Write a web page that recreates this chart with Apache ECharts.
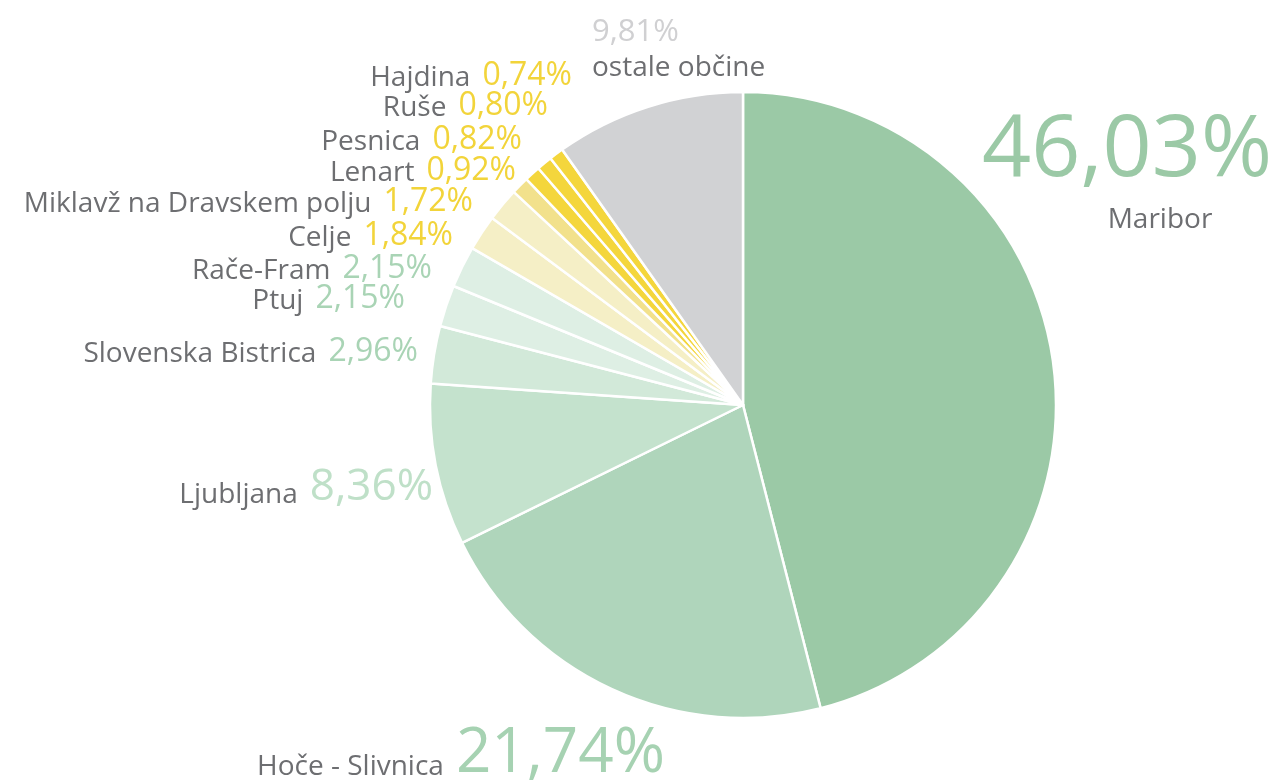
<!DOCTYPE html>
<html>
<head>
<meta charset="utf-8">
<script src="https://cdn.jsdelivr.net/npm/echarts@6/dist/echarts.min.js"></script>
<style>
  html, body { margin: 0; padding: 0; background: #fff; }
  #main { width: 1278px; height: 783px; }
</style>
</head>
<body>
<div id="main"></div>
<script>
// deleži po občinah (v smeri urinega kazalca od vrha)
const names = ['Maribor', 'Hoče - Slivnica', 'Ljubljana', 'Slovenska Bistrica', 'Ptuj', 'Rače-Fram',
  'Celje', 'Miklavž na Dravskem polju', 'Lenart', 'Pesnica', 'Ruše', 'Hajdina', 'ostale občine'];
const shares = [46.03, 21.74, 8.36, 2.96, 2.15, 2.15, 1.84, 1.72, 0.92, 0.82, 0.80, 0.74, 9.81];

const sliceColors = ['#9bc9a6', '#afd5bb', '#c4e2cd', '#d2e9d9', '#deefe4', '#deefe4',
  '#f5efc6', '#f5efc6', '#f2e18c', '#f4d63c', '#f4d63c', '#f4d63c', '#d1d2d4'];
const pctColors = ['#9bc9a6', '#a6d2b2', '#bfe0c8', '#a9d4b5', '#a9d4b5', '#a9d4b5',
  '#f2d43a', '#f2d43a', '#f2d43a', '#f2d43a', '#f2d43a', '#f2d43a', '#d0d0d2'];
const pctSizes = [86, 62, 44, 32, 32, 32, 32, 32, 32, 32, 32, 32, 31];

// kje stojijo napisi: [x, y, align, verticalAlign]
const labelAnchors = [
  [1127, 102, 'center', 'top'],
  [665, 754, 'right', 'middle'],
  [433, 487, 'right', 'middle'],
  [418, 352, 'right', 'middle'],
  [405, 299, 'right', 'middle'],
  [432, 269, 'right', 'middle'],
  [453, 236, 'right', 'middle'],
  [473, 202, 'right', 'middle'],
  [516, 171, 'right', 'middle'],
  [522, 140, 'right', 'middle'],
  [548, 106, 'right', 'middle'],
  [572, 76, 'right', 'middle'],
  [592, 14, 'left', 'top']
];

const FONT = '"Open Sans", "Noto Sans", sans-serif';
const fmt = v => v.toFixed(2).replace('.', ',') + '%';
const last = names.length - 1;

const data = names.map((n, i) => {
  const stacked = i === 0 || i === last;
  const text = stacked
    ? '{p|' + fmt(shares[i]) + '}\n{n|' + n + '}'
    : '{n|' + n + '}{p|' + fmt(shares[i]) + '}';
  return {
    name: n,
    value: shares[i],
    itemStyle: { color: sliceColors[i] },
    label: {
      formatter: text,
      align: labelAnchors[i][2],
      rich: {
        n: {
          fontFamily: FONT, fontSize: 28, color: '#6d6e71', verticalAlign: 'bottom',
          lineHeight: i === 0 ? 40 : (i === last ? 34 : undefined),
          padding: i === 0 ? [0, 0, 0, 66] : (i === 1 ? [0, 0, 4, 0] : 0)
        },
        p: {
          fontFamily: FONT, fontSize: pctSizes[i], color: pctColors[i], verticalAlign: 'bottom',
          lineHeight: i === 0 ? 92 : (i === last ? 34 : undefined),
          padding: stacked ? 0 : [0, 0, 0, 12]
        }
      }
    }
  };
});

const chart = echarts.init(document.getElementById('main'), null, { renderer: 'canvas' });
chart.setOption({
  animation: false,
  series: [{
    type: 'pie',
    center: [743, 405],
    radius: [0, 313],
    startAngle: 90,
    clockwise: true,
    avoidLabelOverlap: false,
    itemStyle: { borderColor: '#ffffff', borderWidth: 2.5 },
    label: { show: true, position: 'outside', fontFamily: FONT },
    labelLine: { show: false },
    emphasis: { disabled: true },
    labelLayout: function (params) {
      const a = labelAnchors[params.dataIndex];
      return { x: a[0], y: a[1], align: a[2], verticalAlign: a[3] };
    },
    data: data
  }]
});
</script>
</body>
</html>
